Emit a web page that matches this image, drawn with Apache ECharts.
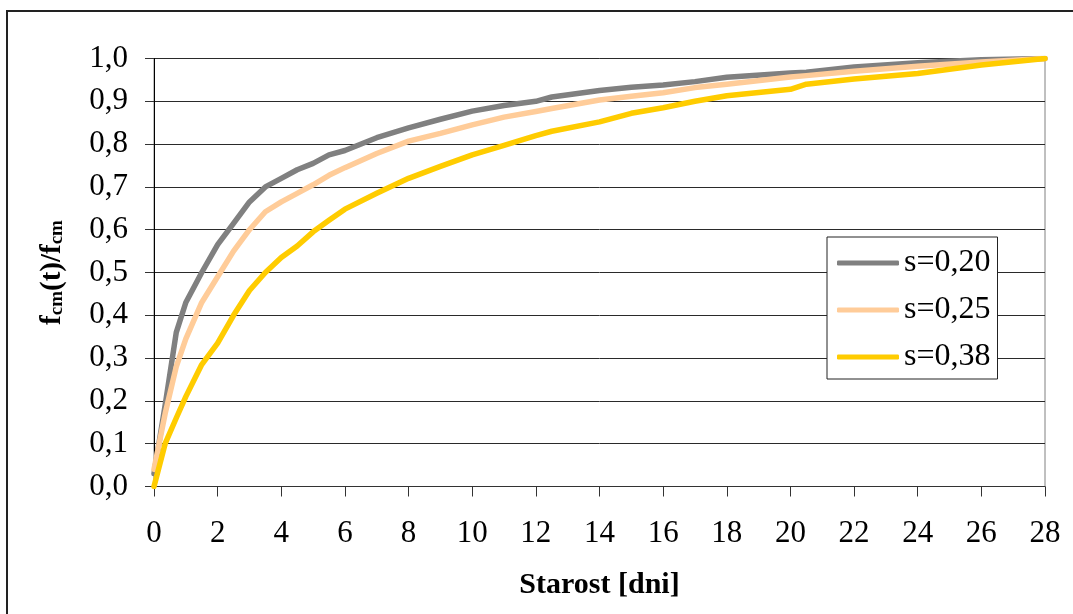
<!DOCTYPE html>
<html>
<head>
<meta charset="utf-8">
<script src="https://cdn.jsdelivr.net/npm/echarts@6/dist/echarts.min.js"></script>
<style>
  html, body { margin: 0; padding: 0; background: #fff; }
  #main { width: 1073px; height: 614px; }
</style>
</head>
<body>
<div id="main"></div>
<script>
// starost betonu [dni]
const days = [0, 0.35, 0.7, 1, 1.5, 2, 2.5, 3, 3.5, 4, 4.5, 5, 5.5, 6, 7, 8, 9, 10,
  11, 12, 12.5, 14, 15, 16, 17, 18, 20, 20.5, 22, 24, 26, 28];
// fcm(t)/fcm odčitano z grafa
const s020 = [0.03, 0.19, 0.36, 0.43, 0.50, 0.565, 0.615, 0.665, 0.70, 0.72, 0.74, 0.755, 0.775, 0.785, 0.815, 0.838, 0.858, 0.877,
  0.89, 0.90, 0.91, 0.925, 0.933, 0.938, 0.946, 0.956, 0.966, 0.968, 0.98, 0.99, 0.997, 1.0];
const s025 = [0.04, 0.17, 0.28, 0.345, 0.43, 0.49, 0.55, 0.60, 0.642, 0.665, 0.685, 0.705, 0.727, 0.745, 0.778, 0.807, 0.825, 0.845,
  0.863, 0.876, 0.883, 0.903, 0.912, 0.92, 0.932, 0.94, 0.957, 0.96, 0.97, 0.982, 0.992, 1.0];
const s038 = [0.0, 0.10, 0.16, 0.21, 0.285, 0.335, 0.40, 0.458, 0.50, 0.535, 0.562, 0.595, 0.622, 0.648, 0.685, 0.72, 0.748, 0.775,
  0.797, 0.82, 0.83, 0.852, 0.872, 0.885, 0.90, 0.913, 0.928, 0.94, 0.952, 0.965, 0.985, 1.0];
const seriesNames = ['s=0,20', 's=0,25', 's=0,38'];
const colors = ['#808080', '#FFCC99', '#FFCC00'];

const font = '"Liberation Serif", "Times New Roman", serif';
const pairs = vals => days.map((d, i) => [d, vals[i]]);

const chart = echarts.init(document.getElementById('main'));
chart.setOption({
  animation: false,
  textStyle: { fontFamily: font },
  graphic: [{
    type: 'rect',
    shape: { x: 7, y: 11, width: 2000, height: 2000 },
    style: { fill: 'none', stroke: '#222', lineWidth: 2 },
    silent: true
  }],
  grid: {
    left: 154, right: 28, top: 58.5, bottom: 127.5,
    show: true, borderColor: '#808080', borderWidth: 1
  },
  legend: {
    orient: 'vertical',
    left: 827, top: 237,
    data: seriesNames,
    backgroundColor: '#fff',
    borderColor: '#222', borderWidth: 1,
    padding: [10, 7, 6, 10],
    itemGap: 15,
    itemWidth: 62, itemHeight: 5,
    icon: 'roundRect',
    textStyle: { fontFamily: font, fontSize: 32, color: '#000', lineHeight: 32 }
  },
  xAxis: {
    type: 'value',
    min: 0, max: 28, interval: 2,
    name: 'Starost [dni]',
    nameLocation: 'middle',
    nameGap: 84,
    nameTextStyle: { fontFamily: font, fontSize: 30, fontWeight: 'bold', color: '#000' },
    axisLine: { lineStyle: { color: '#333', width: 1 } },
    axisTick: { show: true, length: 10, lineStyle: { color: '#333' } },
    axisLabel: { fontFamily: font, fontSize: 31, color: '#000', margin: 32 },
    splitLine: { show: false }
  },
  yAxis: {
    type: 'value',
    min: 0, max: 1, interval: 0.1,
    name: '{b|f}{s|cm}{b|(t)/f}{s|cm}',
    nameLocation: 'middle',
    nameRotate: 90,
    nameGap: 87,
    nameTextStyle: {
      rich: {
        b: { fontFamily: font, fontSize: 29, fontWeight: 'bold', color: '#000', lineHeight: 36, verticalAlign: 'bottom' },
        s: { fontFamily: font, fontSize: 19, fontWeight: 'bold', color: '#000', lineHeight: 14, verticalAlign: 'bottom' }
      }
    },
    axisLine: { show: true, lineStyle: { color: '#000', width: 1 } },
    axisTick: { show: true, length: 9, lineStyle: { color: '#333' } },
    axisLabel: {
      fontFamily: font, fontSize: 31, color: '#000', margin: 26,
      formatter: v => v.toFixed(1).replace('.', ',')
    },
    splitLine: { show: true, lineStyle: { color: '#2a2a2a', width: 1 } }
  },
  series: [s020, s025, s038].map((vals, i) => ({
    name: seriesNames[i],
    type: 'line',
    data: pairs(vals),
    showSymbol: false,
    symbol: 'none',
    color: colors[i],
    lineStyle: { color: colors[i], width: 5.5, cap: 'round', join: 'round' }
  }))
});
</script>
</body>
</html>
